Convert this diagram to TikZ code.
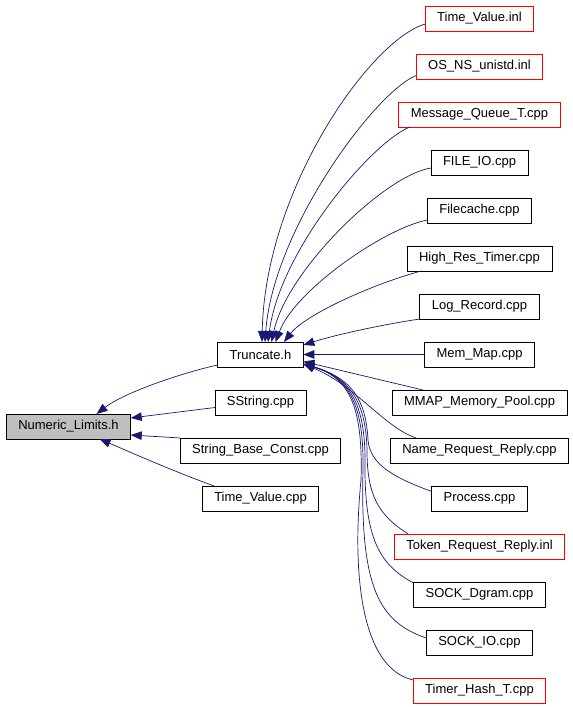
\documentclass[tikz,border=0pt]{standalone}
\usepackage{fontspec}
\setmainfont{Liberation Sans}
\usetikzlibrary{positioning, arrows.meta}
\definecolor{edgeblue}{HTML}{191970}
\definecolor{rootgray}{HTML}{BFBFBF}
\begin{document}
\begin{tikzpicture}[
  x=1pt, y=-1pt,
  font=\fontsize{13}{15}\selectfont,
  >={Triangle[length=11pt, width=8.5pt]},
  node distance=23pt,
  box/.style={draw, line width=0.8pt, fill=white, minimum height=25pt,
              inner xsep=12pt, inner ysep=0pt, outer sep=0pt},
  redbox/.style={box, draw=red},
  rootbox/.style={box, fill=rootgray},
  dep/.style={->, draw=edgeblue, line width=0.7pt},
]
\useasboundingbox (0,0) rectangle (573,707);
% right column: files that include Truncate.h
\node[redbox] at (479.5,18.5) (tvinl) {Time\_Value.inl};
\node[redbox, below=of tvinl]     (osns)      {OS\_NS\_unistd.inl};
\node[redbox, below=of osns]      (mqueue)    {Message\_Queue\_T.cpp};
\node[box, below=of mqueue]       (fileio)    {FILE\_IO.cpp};
\node[box, below=of fileio]       (filecache) {Filecache.cpp};
\node[box, below=of filecache]    (hrtimer)   {High\_Res\_Timer.cpp};
\node[box, below=of hrtimer]      (logrec)    {Log\_Record.cpp};
\node[box, below=of logrec]       (memmap)    {Mem\_Map.cpp};
\node[box, below=of memmap]       (mmap)      {MMAP\_Memory\_Pool.cpp};
\node[box, below=of mmap]         (namereq)   {Name\_Request\_Reply.cpp};
\node[box, below=of namereq]      (process)   {Process.cpp};
\node[redbox, below=of process]   (tokenreq)  {Token\_Request\_Reply.inl};
\node[box, below=of tokenreq]     (dgram)     {SOCK\_Dgram.cpp};
\node[box, below=of dgram]        (sockio)    {SOCK\_IO.cpp};
\node[redbox, below=of sockio]    (timerhash) {Timer\_Hash\_T.cpp};
% middle column
\node[box] at (260.5,354.5) (trunc) {Truncate.h};
\node[box, below=of trunc]   (sstring) {SString.cpp};
\node[box, below=of sstring] (sbconst) {String\_Base\_Const.cpp};
\node[box, below=of sbconst] (tvcpp)   {Time\_Value.cpp};
% root
\node[rootbox] at (68.5,426.5) (numlim) {Numeric\_Limits.h};
% edges into Truncate.h, upper fan
\draw[dep] ([yshift=-5.5pt]tvinl.west) .. controls (370,40) and (265,190) .. ([xshift=1.5pt]trunc.north);
\draw[dep] ([yshift=-9pt]osns.west) .. controls (375,92) and (273,230) .. ([xshift=4.5pt]trunc.north);
\draw[dep] ([xshift=11pt]mqueue.south west) .. controls (372,142) and (280,250) .. ([xshift=7.5pt]trunc.north);
\draw[dep] ([yshift=-5.5pt]fileio.west) .. controls (385,175) and (287,270) .. ([xshift=11pt]trunc.north);
\draw[dep] ([yshift=-9.5pt]filecache.west) .. controls (385,228) and (295,290) .. ([xshift=15pt]trunc.north);
\draw[dep] ([xshift=14pt]hrtimer.south west) .. controls (370,285) and (305,315) .. ([xshift=23.5pt]trunc.north);
\draw[dep] (logrec.south west) .. controls (380,325) and (335,335) .. ([yshift=-3pt]trunc.north east);
\draw[dep] (memmap.west) -- (trunc.east);
\draw[dep] ([xshift=31pt]mmap.north west) -- ([yshift=-7pt]trunc.east);
% edges into Truncate.h, lower fan
\draw[dep] ([xshift=26pt]namereq.north west) .. controls (385,428) and (355,385) .. ([yshift=3pt]trunc.south east);
\draw[dep] ([yshift=7pt]process.west) .. controls (395,478) and (370,465) .. (368,440)
  .. controls (366,400) and (352,378) .. ([yshift=3pt]trunc.south east);
\draw[dep] ([xshift=14pt]tokenreq.north west) .. controls (378,515) and (367,495) .. (367,450)
  .. controls (366,405) and (352,378) .. ([yshift=3pt]trunc.south east);
\draw[dep] ([yshift=-1pt]dgram.north west) .. controls (380,565) and (364,540) .. (365,460)
  .. controls (365,408) and (352,378) .. ([yshift=3pt]trunc.south east);
\draw[dep] ([yshift=4.5pt]sockio.west) .. controls (380,622) and (360,590) .. (363,470)
  .. controls (364,410) and (352,378) .. ([yshift=3pt]trunc.south east);
\draw[dep] ([yshift=-2pt]timerhash.north west) .. controls (360,668) and (352,570) .. (361,480)
  .. controls (363,412) and (352,378) .. ([yshift=3pt]trunc.south east);
% edges into Numeric_Limits.h
\draw[dep] ([yshift=2pt]trunc.south west) .. controls (185,372) and (125,392) .. ([xshift=28pt]numlim.north);
\draw[dep] ([yshift=-5pt]sstring.west) -- ([yshift=-4pt]numlim.north east);
\draw[dep] (sbconst.north west) -- ([yshift=4pt]numlim.south east);
\draw[dep] ([xshift=12pt]tvcpp.north west) .. controls (175,472) and (130,452) .. ([xshift=31pt]numlim.south);
\end{tikzpicture}
\end{document}
